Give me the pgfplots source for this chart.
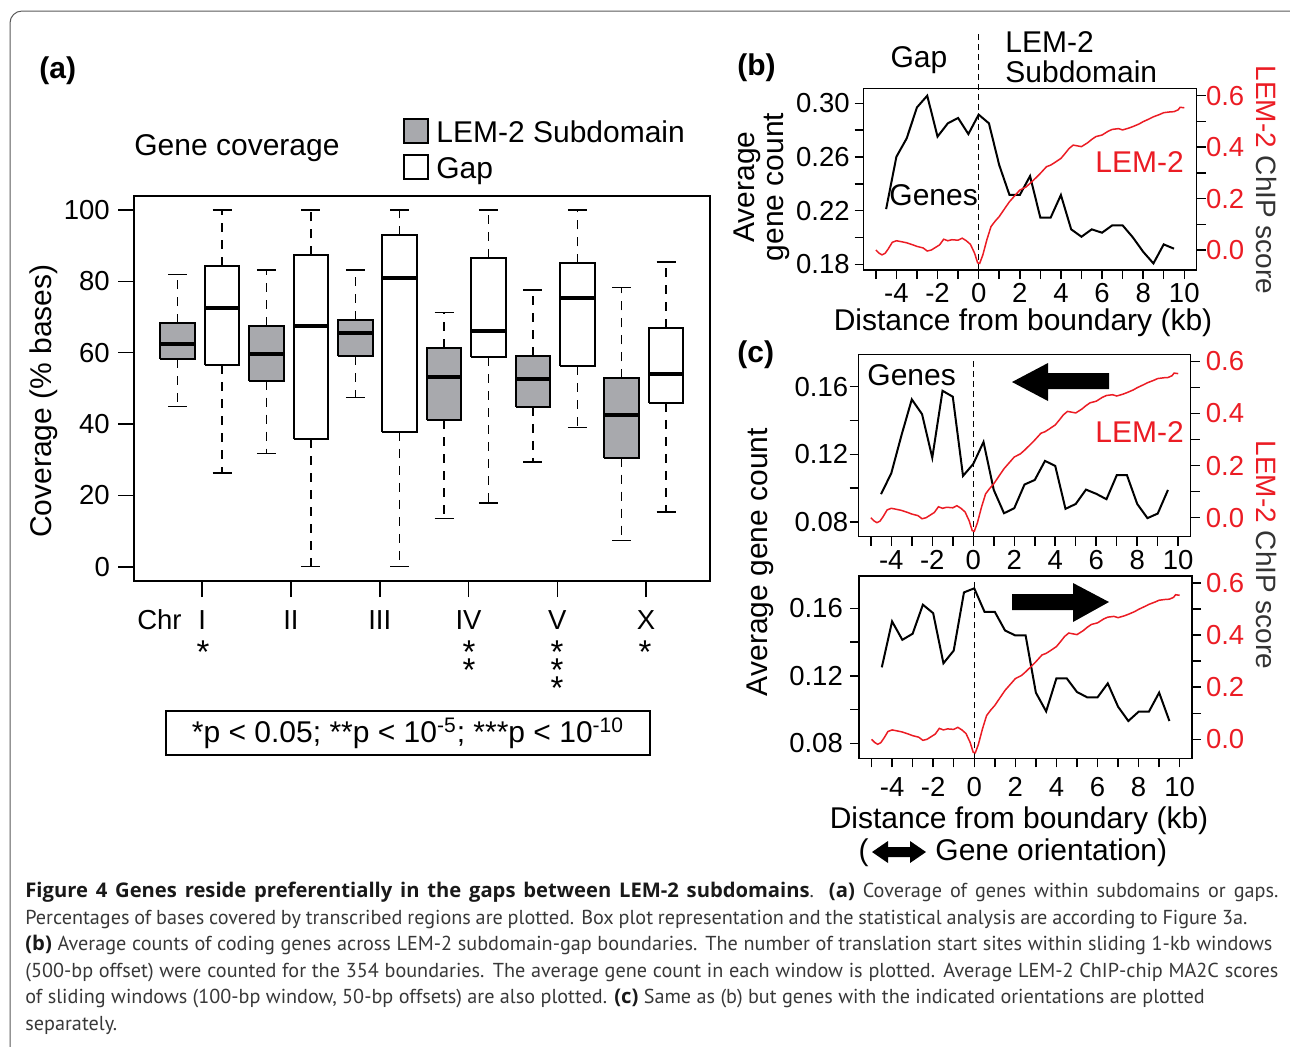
\documentclass[border=0pt]{standalone}
\usepackage{pgfplots}
\pgfplotsset{compat=1.18}
\usepackage{fontspec}
\setmainfont{Liberation Sans}
\newfontfamily\capfont{PT Sans}
\newfontfamily\capbold{Open Sans}
\definecolor{lemred}{RGB}{235,28,36}
\definecolor{boxgray}{RGB}{168,169,173}
\newcommand\lab{\fontsize{15pt}{14.5pt}\selectfont}
\newcommand\tlab{\fontsize{13.75pt}{16pt}\selectfont}
\newcommand\cb[1]{{\capbold\bfseries\color{black!90}#1}}

% one box of panel (a): position, lower whisker, Q1, median, Q3, upper whisker, fill
\newcommand\rbox[7]{%
  \pgfmathsetmacro\xl{#1-0.39}\pgfmathsetmacro\xr{#1+0.39}%
  \pgfmathsetmacro\cl{#1-0.215}\pgfmathsetmacro\cr{#1+0.215}%
  \addplot[black, line width=0.7pt, dash pattern=on 4.5pt off 4pt] coordinates {(#1,#3) (#1,#2)};
  \addplot[black, line width=0.7pt, dash pattern=on 4.5pt off 4pt] coordinates {(#1,#5) (#1,#6)};
  \addplot[black, line width=0.7pt] coordinates {(\cl,#2) (\cr,#2)};
  \addplot[black, line width=0.7pt] coordinates {(\cl,#6) (\cr,#6)};
  \addplot[draw=black, fill=#7, line width=1pt, line join=miter] coordinates {(\xl,#3) (\xr,#3) (\xr,#5) (\xl,#5) (\xl,#3)};
  \addplot[black, line width=2pt] coordinates {(\xl,#4) (\xr,#4)};
}

\pgfplotsset{
  rplot/.style={scale only axis, anchor=south west, clip=false,
    tick align=outside, axis line style={line width=0.75pt},
    every tick/.append style={black, line width=0.75pt},
    major tick length=4.5pt, minor tick length=4.5pt,
    tick label style={font=\tlab, inner sep=0pt},
    xmin=-5.6, xmax=10.6},
  rleft/.style={xtick pos=bottom, ytick pos=left,
    xtick={-4,-2,...,10}, xticklabels={-4,-2,0,2,4,6,8,10},
    minor xtick={-5,-3,...,9}},
  rright/.style={axis line style={draw=none}, xtick=\empty,
    ytick pos=right, yticklabel pos=right,
    ymin=-0.073, ymax=0.627,
    ytick={0,0.2,0.4,0.6}, yticklabels={0.0,0.2,0.4,0.6},
    minor ytick={0.1,0.3,0.5}},
}

% LEM-2 ChIP score (same profile in all three panels)
\pgfplotstableread{
x y
-5.0 0.000
-4.85 -0.012
-4.7 -0.019
-4.55 -0.013
-4.4 0.004
-4.2 0.030
-4.0 0.036
-3.8 0.033
-3.5 0.028
-3.2 0.020
-3.0 0.014
-2.7 0.008
-2.5 -0.004
-2.3 0.000
-2.1 0.010
-1.9 0.020
-1.7 0.042
-1.5 0.036
-1.3 0.040
-1.0 0.038
-0.8 0.046
-0.6 0.036
-0.4 0.022
-0.2 -0.012
-0.05 -0.050
0.05 -0.052
0.2 -0.020
0.4 0.040
0.6 0.091
0.8 0.112
1.0 0.130
1.3 0.165
1.5 0.188
1.8 0.215
2.0 0.233
2.3 0.245
2.5 0.259
2.8 0.282
3.0 0.298
3.3 0.324
3.5 0.330
3.7 0.340
4.0 0.356
4.2 0.375
4.4 0.395
4.6 0.408
4.8 0.405
5.0 0.402
5.3 0.417
5.5 0.430
5.7 0.441
6.0 0.447
6.3 0.462
6.5 0.469
6.8 0.472
7.0 0.467
7.3 0.474
7.5 0.480
7.8 0.490
8.0 0.499
8.3 0.510
8.5 0.518
8.8 0.527
9.0 0.534
9.3 0.537
9.5 0.538
9.7 0.545
9.8 0.555
10.0 0.553
}\lemtab

\begin{document}
\begin{tikzpicture}
\useasboundingbox (0,0) rectangle (645pt,-523pt);
\begin{scope}
  \clip (0,0) rectangle (645pt,-523pt);
  \draw[black!65, line width=0.5pt, rounded corners=6pt] (5pt,-5.5pt) rectangle (660pt,-535pt);
\end{scope}

% ---------- (a) box plots ----------
\begin{axis}[
  at={(67.1pt,-290.5pt)}, anchor=south west, scale only axis,
  width=287.7pt, height=192.65pt,
  xmin=0.02, xmax=12.98, ymin=-4, ymax=104, clip=false,
  axis line style={line width=1.1pt},
  tick align=outside, major tick length=8pt,
  every tick/.append style={black, line width=0.8pt},
  xtick pos=bottom, ytick pos=left,
  xtick={1.55,3.55,5.55,7.55,9.55,11.55},
  xticklabels={I,II,III,IV,V,X},
  ytick={0,20,40,60,80,100}, yticklabels={0,20,40,60,80,100},
  tick label style={font=\tlab, inner sep=0pt},
  xticklabel style={anchor=base, yshift=-16pt},
  yticklabel style={anchor=east, xshift=-4pt},
]
\rbox{1}{45.0}{58.1}{62.3}{68.3}{82.0}{boxgray}
\rbox{2}{26.3}{56.5}{72.6}{84.4}{100}{white}
\rbox{3}{31.7}{52.2}{59.5}{67.6}{83.2}{boxgray}
\rbox{4}{0}{35.8}{67.4}{87.3}{100}{white}
\rbox{5}{47.5}{59.0}{65.4}{69.2}{83.2}{boxgray}
\rbox{6}{0}{37.8}{80.8}{92.9}{100}{white}
\rbox{7}{13.5}{41.0}{53.1}{61.4}{71.2}{boxgray}
\rbox{8}{17.9}{58.7}{66.0}{86.6}{100}{white}
\rbox{9}{29.4}{44.8}{52.7}{59.2}{77.6}{boxgray}
\rbox{10}{39.1}{56.2}{75.2}{85.0}{100}{white}
\rbox{11}{7.3}{30.6}{42.4}{52.8}{78.3}{boxgray}
\rbox{12}{15.4}{45.9}{54.1}{67.0}{85.4}{white}
\end{axis}

% ---------- (b) ----------
\begin{axis}[rplot, rleft, at={(431.75pt,-135pt)}, width=166.55pt, height=90.85pt,
  ymin=0.1758, ymax=0.3112,
  ytick={0.18,0.22,0.26,0.30}, yticklabels={0.18,0.22,0.26,0.30},
  minor ytick={0.20,0.24,0.28},
  xticklabel style={anchor=base, yshift=-11.9pt},
  yticklabel style={anchor=east, xshift=-2.25pt}]
\addplot[black, line width=1pt] coordinates {
(-4.5,0.2212) (-4.0,0.2602) (-3.5,0.2739) (-3.0,0.2970) (-2.5,0.3057) (-2.0,0.2752)
(-1.5,0.2851) (-1.0,0.2891) (-0.5,0.2771) (0.0,0.2916) (0.5,0.2851) (1.0,0.2540)
(1.5,0.2317) (2.0,0.2317) (2.5,0.2458) (3.0,0.2148) (3.5,0.2148) (4.0,0.2317)
(4.5,0.2061) (5.0,0.2006) (5.5,0.2061) (6.0,0.2036) (6.5,0.2091) (7.0,0.2091)
(7.5,0.2001) (8.0,0.1894) (8.5,0.1807) (9.0,0.1949) (9.5,0.1917)};
\addplot[black, line width=0.7pt, dash pattern=on 3pt off 2pt] coordinates {(0,0.1758) (0,0.3531)};
\end{axis}
\begin{axis}[rplot, rright, at={(431.75pt,-135pt)}, width=166.55pt, height=90.85pt,
  ymin=-0.0778, ymax=0.6288,
  yticklabel style={anchor=west, xshift=0pt, text=lemred}]
\addplot[lemred, line width=0.75pt] table[x=x, y=y] {\lemtab};
\end{axis}

% ---------- (c) top ----------
\begin{axis}[rplot, rleft, at={(429.25pt,-268.35pt)}, width=166pt, height=91.2pt,
  ymin=0.0712, ymax=0.1792,
  ytick={0.08,0.12,0.16}, yticklabels={0.08,0.12,0.16},
  minor ytick={0.10,0.14},
  xticklabel style={anchor=base, yshift=-11.9pt},
  yticklabel style={anchor=east, xshift=-0.5pt}]
\addplot[black, line width=1pt] coordinates {
(-4.5,0.0964) (-4.0,0.1088) (-3.5,0.1314) (-3.0,0.1525) (-2.5,0.1438) (-2.0,0.1180)
(-1.5,0.1576) (-1.0,0.1541) (-0.5,0.1072) (0.0,0.1143) (0.5,0.1273) (1.0,0.0989)
(1.5,0.0851) (2.0,0.0881) (2.5,0.1021) (3.0,0.1048) (3.5,0.1161) (4.0,0.1131)
(4.5,0.0877) (5.0,0.0906) (5.5,0.0991) (6.0,0.0966) (6.5,0.0934) (7.0,0.1076)
(7.5,0.1076) (8.0,0.0906) (8.5,0.0822) (9.0,0.0849) (9.5,0.0989)};
\addplot[black, line width=0.7pt, dash pattern=on 3pt off 2pt] coordinates {(0,0.0712) (0,0.1751)};
\end{axis}
\begin{axis}[rplot, rright, at={(429.25pt,-268.35pt)}, width=166pt, height=91.2pt,
  yticklabel style={anchor=west, xshift=3pt, text=lemred}]
\addplot[lemred, line width=0.75pt] table[x=x, y=y] {\lemtab};
\end{axis}

% ---------- (c) bottom ----------
\begin{axis}[rplot, rleft, at={(429.6pt,-379.15pt)}, width=166.4pt, height=91.15pt,
  ymin=0.0712, ymax=0.1792,
  ytick={0.08,0.12,0.16}, yticklabels={0.08,0.12,0.16},
  minor ytick={0.10,0.14},
  xticklabel style={anchor=base, yshift=-14.5pt},
  yticklabel style={anchor=east, xshift=-3.5pt}]
\addplot[black, line width=1pt] coordinates {
(-4.5,0.1251) (-4.0,0.1523) (-3.5,0.1414) (-3.0,0.1450) (-2.5,0.1622) (-2.0,0.1572)
(-1.5,0.1275) (-1.0,0.1350) (-0.5,0.1695) (0.0,0.1719) (0.5,0.1580) (1.0,0.1580)
(1.5,0.1469) (2.0,0.1440) (2.5,0.1440) (3.0,0.1101) (3.5,0.0990) (4.0,0.1186)
(4.5,0.1186) (5.0,0.1105) (5.5,0.1073) (6.0,0.1073) (6.5,0.1156) (7.0,0.1018)
(7.5,0.0933) (8.0,0.0988) (8.5,0.0988) (9.0,0.1101) (9.5,0.0933)};
\addplot[black, line width=0.7pt, dash pattern=on 3pt off 2pt] coordinates {(0,0.0712) (0,0.1758)};
\end{axis}
\begin{axis}[rplot, rright, at={(429.6pt,-379.15pt)}, width=166.4pt, height=91.15pt,
  yticklabel style={anchor=west, xshift=2.3pt, text=lemred}]
\addplot[lemred, line width=0.75pt] table[x=x, y=y] {\lemtab};
\end{axis}

% ---------- text, in pixel units of the reference ----------
\begin{scope}[x=0.5pt, y=-0.5pt]
  % (a)
  \node[anchor=base west, font=\lab\bfseries, inner sep=0pt] at (39,78) {(a)};
  \node[anchor=base west, font=\lab, inner sep=0pt] at (134,155) {Gene coverage};
  \draw[fill=boxgray, line width=0.6pt] (404,119) rectangle (428,143);
  \draw[fill=white, line width=0.6pt] (404,155) rectangle (428,179);
  \node[anchor=base west, font=\lab, inner sep=0pt] at (436,142) {LEM-2 Subdomain};
  \node[anchor=base west, font=\lab, inner sep=0pt] at (436,178) {Gap};
  \node[rotate=90, font=\lab] at (44,401) {Coverage (\% bases)};
  \node[anchor=base east, font=\tlab, inner sep=0pt] at (182,629) {Chr};
  \foreach \xx/\st in {203/{*}, 469/{*\\[-3.3pt]*}, 557/{*\\[-3.3pt]*\\[-3.3pt]*}, 645/{*}}
    \node[anchor=north, align=center, inner sep=0pt,
          font=\fontsize{16.5pt}{9.6pt}\selectfont] at (\xx,640) {\st};
  \draw[line width=1pt] (166,711) rectangle (650,755);
  \node[font=\lab] at (408,733) {*p < 0.05; **p < 10\textsuperscript{-5}; ***p < 10\textsuperscript{-10}};
  % (b)
  \node[anchor=base west, font=\lab\bfseries, inner sep=0pt] at (737,75) {(b)};
  \node[anchor=base, font=\lab, inner sep=0pt] at (919,67) {Gap};
  \node[anchor=base west, font=\lab, inner sep=0pt] at (1005,52) {LEM-2};
  \node[anchor=base west, font=\lab, inner sep=0pt] at (1005,82) {Subdomain};
  \node[anchor=base west, font=\lab, inner sep=0pt] at (889,205) {Genes};
  \node[anchor=base west, font=\lab, inner sep=0pt, text=lemred] at (1095,172) {LEM-2};
  \node[rotate=90, font=\lab, align=center] at (762,187) {Average\\gene count};
  \node[rotate=-90, font=\fontsize{14pt}{14pt}\selectfont] at (1266,180) {\textcolor{lemred}{LEM-2} \textcolor{black!80}{ChIP score}};
  \node[anchor=base, font=\lab, inner sep=0pt] at (1023,330) {Distance from boundary (kb)};
  % (c)
  \node[anchor=base west, font=\lab\bfseries, inner sep=0pt] at (737,362) {(c)};
  \node[anchor=base west, font=\lab, inner sep=0pt] at (867,385) {Genes};
  \node[anchor=base west, font=\lab, inner sep=0pt, text=lemred] at (1095,442) {LEM-2};
  \fill (1012,382) -- (1048,363) -- (1048,373) -- (1109,373) -- (1109,389) -- (1048,389) -- (1048,401) -- cycle;
  \fill (1109,602) -- (1073,583) -- (1073,594) -- (1012,594) -- (1012,610) -- (1073,610) -- (1073,622) -- cycle;
  \node[rotate=90, font=\lab] at (760,562) {Average gene count};
  \node[rotate=-90, font=\fontsize{14pt}{14pt}\selectfont] at (1266,555) {\textcolor{lemred}{LEM-2} \textcolor{black!80}{ChIP score}};
  \node[anchor=base, font=\lab, inner sep=0pt] at (1019,828) {Distance from boundary (kb)};
  \node[anchor=base east, font=\lab, inner sep=0pt] at (869,860) {(};
  \fill (872,852) -- (888,841) -- (888,847) -- (910,847) -- (910,841) -- (926,852) -- (910,863) -- (910,857) -- (888,857) -- (888,863) -- cycle;
  \node[anchor=base west, font=\lab, inner sep=0pt] at (935,860) {Gene orientation)};
  % caption
  \node[anchor=north west, inner sep=0pt, align=left, text=black!78,
        font=\capfont\fontsize{10.1pt}{13.25pt}\selectfont] at (25,882) {%
    \makebox[626.5pt][s]{\cb{Figure 4 Genes reside preferentially in the gaps between LEM-2 subdomains}. \cb{(a)} Coverage of genes within subdomains or gaps.}\\
    \makebox[611pt][s]{Percentages of bases covered by transcribed regions are plotted. Box plot representation and the statistical analysis are according to Figure 3a.}\\
    \makebox[623.5pt][s]{\cb{(b)} Average counts of coding genes across LEM-2 subdomain-gap boundaries. The number of translation start sites within sliding 1-kb windows}\\
    \makebox[626.5pt][s]{(500-bp offset) were counted for the 354 boundaries. The average gene count in each window is plotted. Average LEM-2 ChIP-chip MA2C scores}\\
    of sliding windows (100-bp window, 50-bp offsets) are also plotted. \cb{(c)} Same as (b) but genes with the indicated orientations are plotted\\
    separately.};
\end{scope}
\end{tikzpicture}
\end{document}
